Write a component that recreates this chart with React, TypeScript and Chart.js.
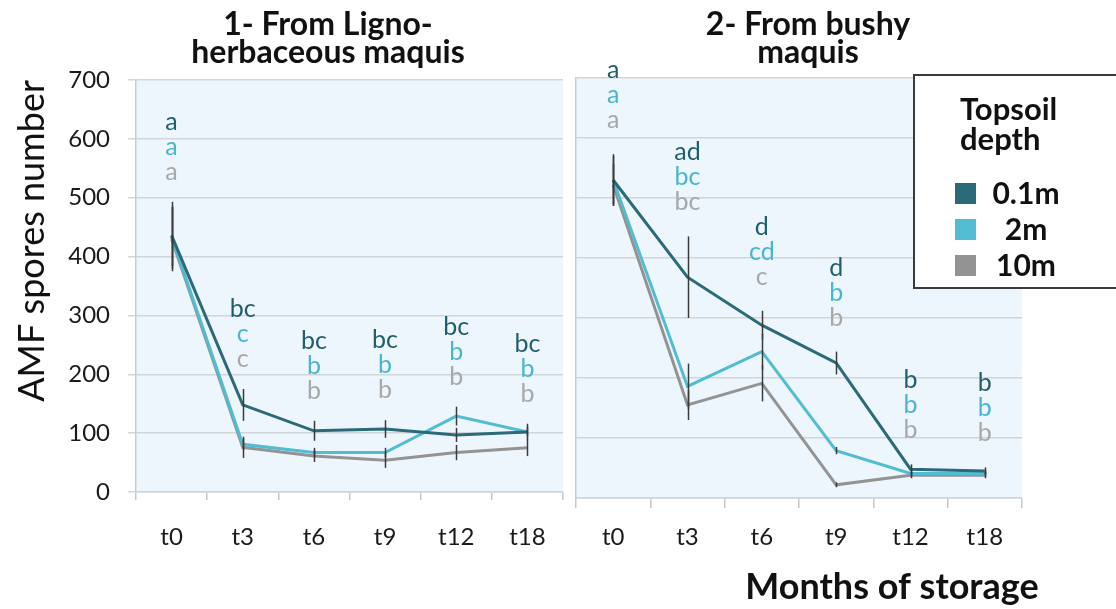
import React, { useEffect, useRef } from 'react';
import { Chart, registerables } from 'chart.js';

Chart.register(...registerables);

// ---------- data ----------
const categories = ['t0', 't3', 't6', 't9', 't12', 't18'];
const seriesNames = ['0.1m', '2m', '10m'];
const yAxisTitle = 'AMF spores number';
const xAxisTitle = 'Months of storage';
const panel1Title = ['1- From Ligno-', 'herbaceous maquis'];
const panel2Title = ['2- From bushy', 'maquis'];
const legendTitle = ['Topsoil', 'depth'];

// Panel 1: Ligno-herbaceous maquis
const ligno01 = [436, 148, 104, 107, 97, 102];
const ligno2 = [434, 81, 67, 67, 129, 102];
const ligno10 = [430, 76, 61, 54, 67, 75];
const lignoErr01 = [57, 27, 17, 15, 12, 14];
const lignoErr2 = [50, 10, 8, 8, 16, 8];
const lignoErr10 = [55, 18, 10, 13, 13, 14];
const lignoLetters01 = ['a', 'bc', 'bc', 'bc', 'bc', 'bc'];
const lignoLetters2 = ['a', 'c', 'b', 'b', 'b', 'b'];
const lignoLetters10 = ['a', 'c', 'b', 'b', 'b', 'b'];

// Panel 2: bushy maquis
const bushy01 = [530, 368, 288, 225, 48, 45];
const bushy2 = [530, 186, 244, 79, 41, 41];
const bushy10 = [522, 155, 191, 22, 38, 38];
const bushyErr01 = [43, 68, 24, 19, 8, 6];
const bushyErr2 = [40, 38, 30, 6, 5, 5];
const bushyErr10 = [35, 25, 30, 4, 5, 5];
const bushyLetters01 = ['a', 'ad', 'd', 'd', 'b', 'b'];
const bushyLetters2 = ['a', 'bc', 'cd', 'b', 'b', 'b'];
const bushyLetters10 = ['a', 'bc', 'c', 'b', 'b', 'b'];

// ---------- styles ----------
const lineColors = ['#2a6a79', '#52bcd3', '#939393'];
const letterColors = ['#1f5f6d', '#48b6cf', '#a8a8a8'];
const FONT = 'Lato, "Open Sans", sans-serif';
const plotBg = '#eef6fd';
const gridColor = '#d2d5d8';

const decoPlugin = {
  id: 'deco',
  beforeDraw(chart: any) {
    const { ctx, chartArea } = chart;
    ctx.save();
    ctx.fillStyle = plotBg;
    ctx.fillRect(chartArea.left, chartArea.top, chartArea.right - chartArea.left, chartArea.bottom - chartArea.top);
    ctx.restore();
  },
  afterDatasetsDraw(chart: any, _args: any, opts: any) {
    const { ctx } = chart;
    const xs = chart.scales.x;
    const ys = chart.scales.y;
    const ds = chart.data.datasets;
    ctx.save();
    // error bars
    ctx.strokeStyle = '#3a3a3a';
    ctx.lineWidth = 1.5;
    ds.forEach((d: any, si: number) => {
      const errs = opts.errors[si];
      d.data.forEach((v: number, i: number) => {
        const x = Math.round(xs.getPixelForValue(i)) + 0.5;
        ctx.beginPath();
        ctx.moveTo(x, ys.getPixelForValue(v + errs[i]));
        ctx.lineTo(x, ys.getPixelForValue(v - errs[i]));
        ctx.stroke();
      });
    });
    // significance letters
    ctx.font = `25px ${FONT}`;
    ctx.textAlign = 'center';
    ctx.textBaseline = 'middle';
    categories.forEach((_c, i) => {
      let top = -Infinity;
      ds.forEach((d: any, si: number) => {
        top = Math.max(top, d.data[i] + opts.errors[si][i]);
      });
      const base = ys.getPixelForValue(top) - opts.letterGap;
      const x = xs.getPixelForValue(i);
      const n = ds.length;
      for (let si = 0; si < n; si++) {
        ctx.fillStyle = letterColors[si];
        ctx.fillText(opts.letters[si][i], x, base - (n - 1 - si) * 25);
      }
    });
    ctx.restore();
  },
  afterDraw(chart: any, _args: any, opts: any) {
    const { ctx } = chart;
    ctx.save();
    // panel title
    ctx.fillStyle = '#111';
    ctx.font = `bold 32px ${FONT}`;
    ctx.textAlign = 'center';
    ctx.textBaseline = 'middle';
    opts.title.forEach((t: string, k: number) => {
      ctx.fillText(t, opts.titleX, 25 + k * 28);
    });
    if (opts.xTitle) {
      ctx.font = `bold 36px ${FONT}`;
      ctx.fillText(opts.xTitle, opts.xTitleX, 587);
    }
    if (opts.legend) {
      const L = opts.legend;
      ctx.fillStyle = '#ffffff';
      ctx.fillRect(L.x, L.y, L.w, L.h);
      ctx.strokeStyle = '#3a3a3a';
      ctx.lineWidth = 2;
      ctx.strokeRect(L.x, L.y, L.w, L.h);
      ctx.fillStyle = '#111';
      ctx.font = `bold 31px ${FONT}`;
      ctx.textAlign = 'left';
      legendTitle.forEach((t, k) => ctx.fillText(t, L.x + 46, L.y + 35 + k * 30));
      ctx.font = `bold 30px ${FONT}`;
      ctx.textAlign = 'center';
      chart.data.datasets.forEach((d: any, si: number) => {
        const cy = L.y + 118 + si * 36;
        ctx.fillStyle = d.borderColor;
        ctx.fillRect(L.x + 41, cy - 10, 21, 21);
        ctx.fillStyle = '#111';
        ctx.fillText(d.label, L.x + 112, cy + 1);
      });
    }
    ctx.restore();
  },
};

function makeDatasets(a: number[], b: number[], c: number[]) {
  return [a, b, c].map((data, i) => ({
    label: seriesNames[i],
    data,
    borderColor: lineColors[i],
    backgroundColor: lineColors[i],
    borderWidth: 3,
    pointRadius: 0,
    tension: 0,
    fill: false,
  }));
}

function Panel(props: { which: number }) {
  const ref = useRef<HTMLCanvasElement>(null);
  useEffect(() => {
    const left = props.which === 1;
    const datasets = left
      ? makeDatasets(ligno01, ligno2, ligno10)
      : makeDatasets(bushy01, bushy2, bushy10);
    const chart = new Chart(ref.current as HTMLCanvasElement, {
      type: 'line',
      data: { labels: categories, datasets },
      plugins: [decoPlugin],
      options: {
        responsive: false,
        animation: false,
        events: [],
        layout: {
          padding: left
            ? { top: 80, right: 7, left: 0, bottom: 0 }
            : { top: 78, right: 94, left: 0, bottom: 0 },
        },
        plugins: {
          legend: { display: false },
          title: { display: false },
          tooltip: { enabled: false },
          deco: {
            errors: left ? [lignoErr01, lignoErr2, lignoErr10] : [bushyErr01, bushyErr2, bushyErr10],
            letters: left
              ? [lignoLetters01, lignoLetters2, lignoLetters10]
              : [bushyLetters01, bushyLetters2, bushyLetters10],
            letterGap: left ? 30 : 34,
            title: left ? panel1Title : panel2Title,
            titleX: left ? 328 : 238,
            xTitle: left ? null : xAxisTitle,
            xTitleX: 322,
            legend: left ? null : { x: 344, y: 75, w: 230, h: 213 },
          },
        } as any,
        scales: {
          x: {
            type: 'category',
            offset: true,
            grid: {
              offset: true,
              drawOnChartArea: false,
              drawTicks: true,
              tickLength: left ? 8 : 10,
              color: '#c8c8c8',
              lineWidth: 1.5,
            },
            border: { display: true, color: gridColor, width: 1.5 },
            ticks: {
              font: { family: FONT, size: 24 },
              color: '#1a1a1a',
              padding: left ? 23 : 15,
              maxRotation: 0,
            },
            afterFit: (s: any) => {
              s.height = left ? 117 : 111;
            },
          },
          y: {
            min: 0,
            max: 700,
            ticks: {
              display: left,
              stepSize: 100,
              font: { family: FONT, size: 24 },
              color: '#1a1a1a',
              padding: 18,
            },
            grid: {
              color: gridColor,
              lineWidth: 1.5,
              drawTicks: left,
              tickLength: 8,
            },
            border: { display: true, color: '#c8ccd0', width: 1.5 },
            title: left
              ? {
                  display: true,
                  text: yAxisTitle,
                  font: { family: FONT, size: 36 },
                  color: '#111',
                  align: 'end',
                  padding: { top: 11, bottom: 0 },
                }
              : { display: false },
            afterFit: (s: any) => {
              s.width = left ? 136 : 6;
            },
          },
        },
      } as any,
    });
    return () => chart.destroy();
  }, [props.which]);
  return (
    <canvas
      ref={ref}
      width={props.which === 1 ? 570 : 546}
      height={609}
      style={{
        position: 'absolute',
        top: 0,
        left: props.which === 1 ? 0 : 570,
        width: props.which === 1 ? 570 : 546,
        height: 609,
      }}
    />
  );
}

export default function App() {
  return (
    <div
      style={{
        position: 'fixed',
        top: 0,
        left: 0,
        width: 1116,
        height: 609,
        background: '#ffffff',
        overflow: 'hidden',
      }}
    >
      <Panel which={1} />
      <Panel which={2} />
    </div>
  );
}
